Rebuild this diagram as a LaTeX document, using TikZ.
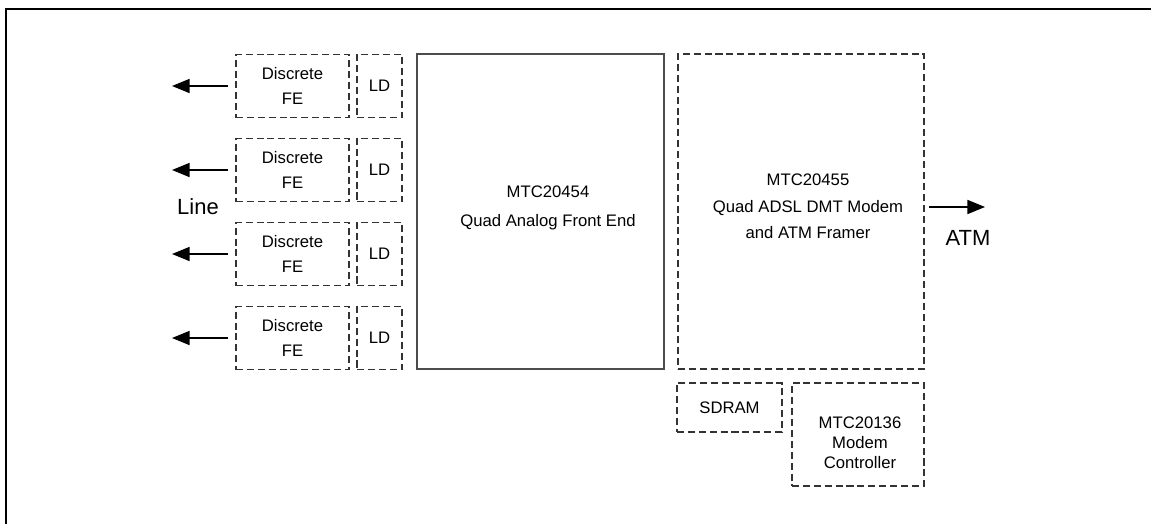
\documentclass[tikz,border=0pt]{standalone}
\usepackage{fontspec}
\setmainfont{Liberation Sans}
\usetikzlibrary{arrows.meta,positioning}
\newcommand{\pxu}{0.02cm}
\tikzset{
  dashbox/.style={draw=black!80, dash pattern=on 4pt off 2.2pt, line width=0.6pt,
    inner sep=0pt, outer sep=0pt, align=center},
  chipbox/.style={draw=black!70, line width=0.8pt, inner sep=0pt, outer sep=0pt},
  sig/.style={line width=0.75pt, -{Triangle[length=10pt,width=8pt]}},
  lbl/.style={font=\fontsize{12.5}{15}\selectfont},
}

\begin{document}
\begin{tikzpicture}[x=\pxu, y=-\pxu, every node/.style={font=\fontsize{9.5}{14}\selectfont}]
\useasboundingbox (0,0) rectangle (1151,524);
% page frame (top and left only)
\draw[line width=1.7pt] (6,524) -- (6,9) -- (1151,9);
% four discrete front ends with line drivers
\foreach \i/\y in {1/86,2/170,3/254,4/338}{
  \node[dashbox, minimum width=113*\pxu, minimum height=63*\pxu] (fe\i) at (292.5,\y) {Discrete\\FE};
  \node[dashbox, minimum width=45*\pxu, minimum height=63*\pxu] (ld\i) at (379.5,\y) {LD};
  \coordinate (line\i) at (172,\y);
  \draw[sig, shorten <=4.5pt] (fe\i) -- (line\i);
}
\node[lbl] (linelbl) at (198,207) {Line};
% analog front end
\node[chipbox, minimum width=247*\pxu, minimum height=315*\pxu] (afe) at (540.5,211.5) {};
\node[align=center, font=\fontsize{9.5}{16.4}\selectfont] (afetxt) at (548,207.5)
  {MTC20454\\Quad Analog Front End};
% DMT modem / ATM framer
\node[dashbox, minimum width=246*\pxu, minimum height=315*\pxu] (dmt) at (801,211.5) {};
\node[align=center, font=\fontsize{9.5}{15}\selectfont] (dmttxt) at (808,206.5)
  {MTC20455\\Quad ADSL DMT Modem\\and ATM Framer};
\coordinate (atm) at (985,207);
\draw[sig, shorten <=2.8pt] (dmt.east |- atm) -- (atm);
\node[lbl] (atmlbl) at (968,238) {ATM};
% memory and controller
\node[dashbox, minimum width=105*\pxu, minimum height=49*\pxu] (sdram) at (729.5,407.5) {SDRAM};
\node[dashbox, minimum width=132*\pxu, minimum height=103*\pxu] (ctrl) at (858,434.5) {};
\node[align=center, font=\fontsize{9.5}{11.3}\selectfont] (ctrltxt) at (860,443)
  {MTC20136\\Modem\\Controller};
\end{tikzpicture}
\end{document}
